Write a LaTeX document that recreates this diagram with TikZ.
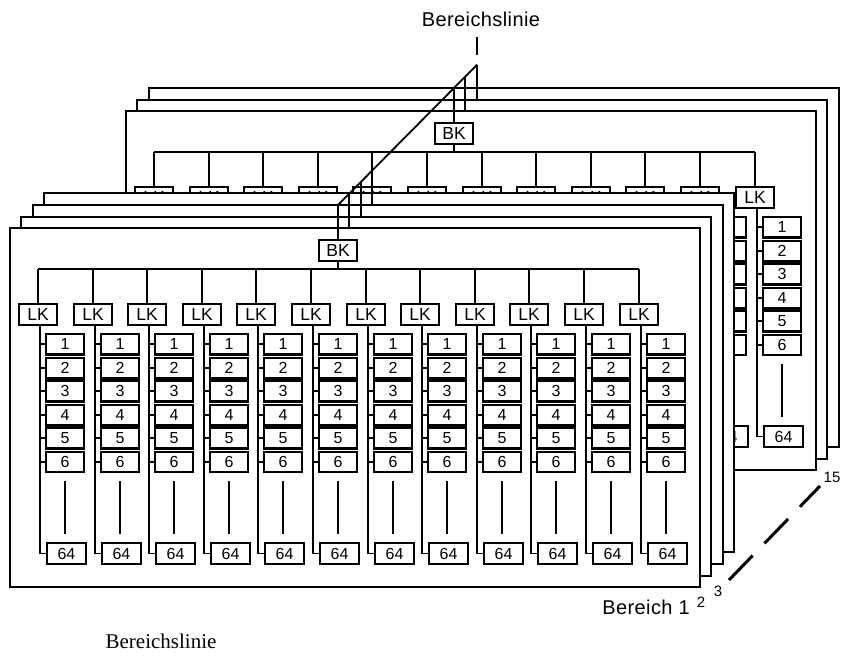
\documentclass[tikz,border=0pt]{standalone}
\usepackage{fontspec}
\setmainfont{Liberation Sans}
\newfontfamily\lblfont[LetterSpace=2]{Liberation Sans}
\newfontfamily\serfont{Liberation Serif}
\newcommand\panelfull[3]{%
 \begin{scope}[shift={(#2,#3)}]
  \path[pan] (0,0) rectangle (690,359);
  \node[lkbox] (#1-bk) at (328,22.5) {BK};
  \pgfmathsetmacro\diagy{205-1.009*(#2-10)-#3}
  \coordinate (#1-top) at (328,\diagy);
  \draw[ln] (#1-bk.north) -- (#1-top);
  \coordinate (#1-busL) at (28,41);
  \coordinate (#1-busR) at (629,41);
  \draw[ln] (#1-busL) -- (#1-busR);
  \draw[ln] (#1-bk.south) -- (#1-bk.south |- #1-busL);
  \foreach \i in {0,...,11}{%
    \pgfmathsetmacro\cx{28+round(54.6*\i)}
    \node[lkbox] (#1-lk\i) at (\cx,86.5) {LK};
    \draw[ln] (#1-lk\i.north) -- (#1-lk\i.north |- #1-busL);
    \node[lastbox] (#1-m\i) at ({\cx+28.5},325.5) {64};
    \coordinate (#1-v\i) at ({\cx+2},97);
    \draw[ln] (#1-v\i) |- (#1-m\i.west);
    \foreach \n/\yy in {1/116,2/140,3/163,4/187,5/210,6/234}{%
      \node[nbox] (#1-n\i-\n) at ({\cx+27},\yy) {\n};
      \draw[ln] (#1-n\i-\n.west) -- (#1-n\i-\n.west -| #1-v\i);
    }
    \foreach \n in {1,...,5}{\draw[band] (#1-n\i-\n.south west) -- (#1-n\i-\n.south east);}
    \coordinate (#1-ea\i) at ({\cx+27},253);
    \coordinate (#1-eb\i) at ({\cx+27},306);
    \draw[ln] (#1-ea\i) -- (#1-eb\i);
  }
 \end{scope}}
\begin{document}
\begin{tikzpicture}[x=1pt,y=-1pt,
  pan/.style={draw,fill=white,line width=2pt},
  ln/.style={line width=1.8pt},
  lkbox/.style={draw,fill=white,line width=1.8pt,minimum width=38pt,minimum height=21pt,inner sep=0pt,font=\fontsize{17.5}{17.5}\selectfont},
  nbox/.style={draw,fill=white,line width=1.8pt,minimum width=38pt,minimum height=20pt,inner sep=0pt,font=\fontsize{16}{16}\selectfont},
  lastbox/.style={nbox,minimum width=39pt,minimum height=21pt},
  band/.style={line width=2.3pt},
  lbl/.style={inner sep=0pt,font=\lblfont\fontsize{20}{20}\selectfont},
  sup/.style={inner sep=0pt,font=\fontsize{15}{15}\selectfont}]
\useasboundingbox[fill=white] (0,0) rectangle (842,655);
\panelfull{p12}{149}{88}
\panelfull{p11}{137}{100}
\panelfull{p10}{126}{111}
\panelfull{p3}{44}{193}
\panelfull{p2}{33}{205}
\panelfull{p1}{21}{217}
\panelfull{p0}{10}{228}
\draw[ln] (p0-top) -- (p12-top);
\coordinate (lA) at (477,55);
\coordinate (lB) at (477,37);
\draw[ln] (lA) -- (lB);
\node[lbl] (topl) at (481,19) {Bereichslinie};
\node[lbl] (b1) at (646,607) {Bereich 1};
\node[sup] (b2) at (701,602) {2};
\node[sup] (b3) at (718,591) {3};
\node[sup] (b15) at (832,477) {15};
\coordinate (dA) at (729,580);
\coordinate (dB) at (820,486);
\draw[line width=3pt,dash pattern=on 34pt off 17pt] (dA) -- (dB);
\node[inner sep=0pt,font=\serfont\fontsize{21}{21}\selectfont] (bot) at (161,641) {Bereichslinie};
\end{tikzpicture}
\end{document}
